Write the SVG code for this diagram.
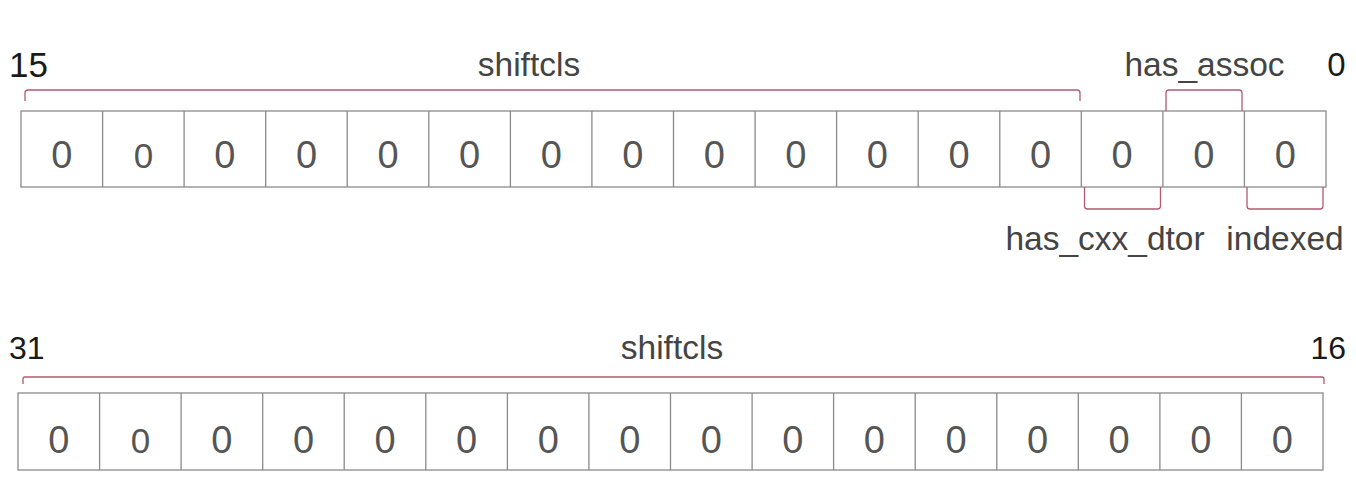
<svg xmlns="http://www.w3.org/2000/svg" width="1356" height="478" viewBox="0 0 1356 478">
<style>
.cell{fill:#fff;stroke:#8a8a8a;stroke-width:1.3}
.bit{font-family:"Liberation Sans",Arial,sans-serif;font-size:38px;fill:#555;text-anchor:middle}
.lbl{font-family:"Liberation Sans",Arial,sans-serif;font-size:33.5px;fill:#444}
.num{font-family:"Liberation Sans",Arial,sans-serif;fill:#1a1a1a}
.br{fill:none;stroke:#b35a72;stroke-width:1.3;stroke-linejoin:round}
</style>
<rect width="1356" height="478" fill="#fff"/>
<g id="row-top">
<rect class="cell" x="21" y="111" width="1305" height="76"/>
<path class="cell" fill="none" d="M102.6 111V187M184.1 111V187M265.7 111V187M347.2 111V187M428.8 111V187M510.4 111V187M591.9 111V187M673.5 111V187M755.1 111V187M836.6 111V187M918.2 111V187M999.8 111V187M1081.3 111V187M1162.9 111V187M1244.4 111V187"/>
<g class="bit">
<text x="61.8" y="168">0</text><text x="143.4" y="168" font-size="35">0</text><text x="224.9" y="168">0</text><text x="306.5" y="168">0</text>
<text x="388" y="168">0</text><text x="469.6" y="168">0</text><text x="551.2" y="168">0</text><text x="632.7" y="168">0</text>
<text x="714.3" y="168">0</text><text x="795.9" y="168">0</text><text x="877.4" y="168">0</text><text x="959" y="168">0</text>
<text x="1040.5" y="168">0</text><text x="1122.1" y="168">0</text><text x="1203.7" y="168">0</text><text x="1285.2" y="168">0</text>
</g>
</g>
<g id="row-bottom">
<rect class="cell" x="18" y="393" width="1305" height="77"/>
<path class="cell" fill="none" d="M99.6 393V470M181.1 393V470M262.7 393V470M344.2 393V470M425.8 393V470M507.4 393V470M588.9 393V470M670.5 393V470M752.1 393V470M833.6 393V470M915.2 393V470M996.8 393V470M1078.3 393V470M1159.9 393V470M1241.4 393V470"/>
<g class="bit">
<text x="58.8" y="453">0</text><text x="140.4" y="453" font-size="35">0</text><text x="221.9" y="453">0</text><text x="303.5" y="453">0</text>
<text x="385" y="453">0</text><text x="466.6" y="453">0</text><text x="548.2" y="453">0</text><text x="629.7" y="453">0</text>
<text x="711.3" y="453">0</text><text x="792.9" y="453">0</text><text x="874.4" y="453">0</text><text x="956" y="453">0</text>
<text x="1037.5" y="453">0</text><text x="1119.1" y="453">0</text><text x="1200.7" y="453">0</text><text x="1282.2" y="453">0</text>
</g>
</g>
<g id="connectors">
<path class="br" d="M25 101V93Q25 90 28 90H1077Q1080 90 1080 93V101"/>
<path class="br" d="M1166 111V93Q1166 90 1169 90H1239Q1242 90 1242 93V111"/>
<path class="br" d="M1084.5 187V206Q1084.5 209 1087.5 209H1157.5Q1160.5 209 1160.5 206V187"/>
<path class="br" d="M1247 187V206Q1247 209 1250 209H1320Q1323 209 1323 206V187"/>
<path class="br" d="M23 384V379Q23 377 25 377H1322Q1324 377 1324 379V384"/>
</g>
<g id="labels">
<text class="num" x="9" y="77" font-size="35">15</text>
<text class="lbl" x="529" y="76" text-anchor="middle">shiftcls</text>
<text class="lbl" x="1204.5" y="76" text-anchor="middle">has_assoc</text>
<text class="num" x="1336.5" y="76" font-size="33" text-anchor="middle">0</text>
<text class="lbl" x="1105" y="250" text-anchor="middle">has_cxx_dtor</text>
<text class="lbl" x="1285" y="250" text-anchor="middle">indexed</text>
<text class="num" x="9" y="359" font-size="32">31</text>
<text class="lbl" x="672" y="359" text-anchor="middle">shiftcls</text>
<text class="num" x="1346" y="359" font-size="32" text-anchor="end">16</text>
</g>
</svg>
